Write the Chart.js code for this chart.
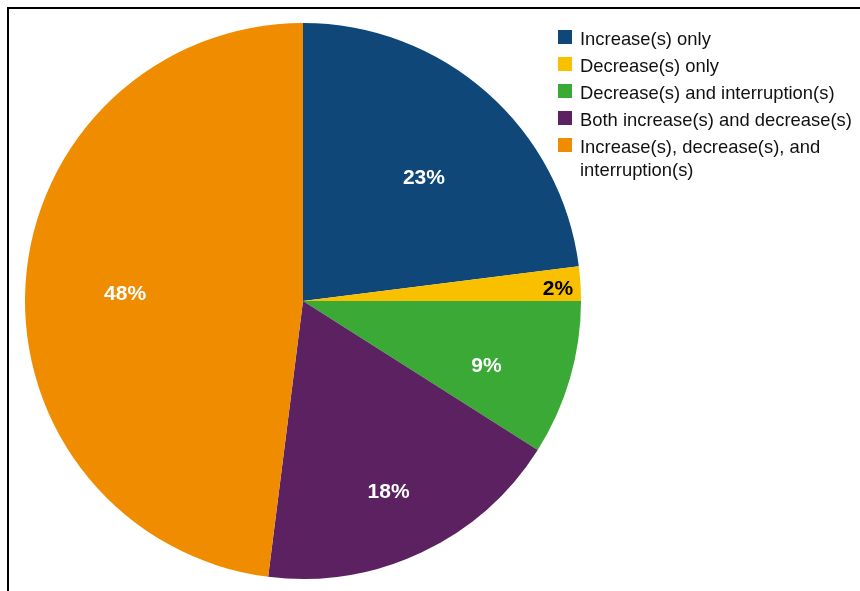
<!DOCTYPE html>
<html>
<head>
<title>Pie chart</title>
<style>
  body { margin:0; background:#fff; font-family:"Liberation Sans", Arial, sans-serif; }
  #wrap { position:relative; width:860px; height:591px; overflow:hidden; }
  #frame { position:absolute; left:7px; top:7px; width:900px; height:700px; border-left:2px solid #000; border-top:2px solid #000; }
  #cv { position:absolute; left:0; top:0; }
  #legend { position:absolute; left:558px; top:27px; font-size:18.4px; color:#111; line-height:23px; }
  #legend .it { position:relative; padding-left:22px; margin-bottom:4px; width:290px; white-space:nowrap; }
  #legend .sw { position:absolute; left:0; top:3px; width:14px; height:14px; }
</style>
</head>
<body>
<div id="wrap">
  <div id="frame"></div>
  <canvas id="cv" width="860" height="591"></canvas>
  <div id="legend"></div>
</div>
<script src="https://cdn.jsdelivr.net/npm/chart.js@4.4.0/dist/chart.umd.min.js"></script>
<script>
// data
const categories = [
  'Increase(s) only',
  'Decrease(s) only',
  'Decrease(s) and interruption(s)',
  'Both increase(s) and decrease(s)',
  'Increase(s), decrease(s), and interruption(s)'
];
const legendLines = [
  ['Increase(s) only'],
  ['Decrease(s) only'],
  ['Decrease(s) and interruption(s)'],
  ['Both increase(s) and decrease(s)'],
  ['Increase(s), decrease(s), and', 'interruption(s)']
];
const shares = [23, 2, 9, 18, 48];
const colours = ['#0f4778', '#f9c000', '#3aa935', '#5b2160', '#ef8c00'];
const labelColours = ['#fff', '#000', '#fff', '#fff', '#fff'];

// % label placement, in units of the pie radius from its centre
const labelPos = [[0.435, -0.446], [0.917, -0.045], [0.660, 0.230], [0.308, 0.685], [-0.640, -0.029]];

const pctLabels = {
  id: 'pctLabels',
  afterDatasetsDraw(chart) {
    const ctx = chart.ctx;
    const meta = chart.getDatasetMeta(0);
    ctx.save();
    ctx.font = 'bold 21px "Liberation Sans", Arial, sans-serif';
    ctx.textAlign = 'center';
    ctx.textBaseline = 'middle';
    meta.data.forEach(function(arc, i) {
      const r = arc.outerRadius;
      ctx.fillStyle = labelColours[i];
      ctx.fillText(shares[i] + '%', arc.x + labelPos[i][0] * r, arc.y + labelPos[i][1] * r + 1);
    });
    ctx.restore();
  }
};

new Chart(document.getElementById('cv'), {
  type: 'pie',
  data: {
    labels: categories,
    datasets: [{
      data: shares,
      backgroundColor: colours,
      borderWidth: 0
    }]
  },
  options: {
    responsive: false,
    animation: false,
    layout: { padding: { left: 25, top: 23, right: 279, bottom: 12 } },
    plugins: {
      legend: { display: false },
      tooltip: { enabled: false }
    }
  },
  plugins: [pctLabels]
});

// legend as html
let lg = document.getElementById('legend');
legendLines.forEach(function(lines, i) {
  let d = document.createElement('div');
  d.className = 'it';
  d.innerHTML = '<span class="sw" style="background:' + colours[i] + '"></span>' + lines.join('<br>');
  lg.appendChild(d);
});
</script>
</body>
</html>
